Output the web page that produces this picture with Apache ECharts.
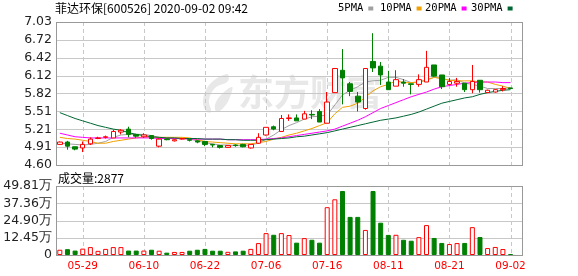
<!DOCTYPE html>
<html><head><meta charset="utf-8">
<script src="https://cdn.jsdelivr.net/npm/echarts@6/dist/echarts.min.js"></script>
<style>html,body{margin:0;padding:0;background:#fff}#c{width:578px;height:276px}</style>
</head><body><div id="c"></div>
<script>
const stockName = '菲达环保';
const stockCode = '600526';
const stampTime = '2020-09-02 09:42';
const lastVolume = 2877;

const dates = ['05-26','05-27','05-28','05-29','06-01','06-02','06-03','06-04','06-05','06-08',
  '06-09','06-10','06-11','06-12','06-15','06-16','06-17','06-18','06-19','06-22',
  '06-23','06-24','06-29','06-30','07-01','07-02','07-03','07-06','07-07','07-08',
  '07-09','07-10','07-13','07-14','07-15','07-16','07-17','07-20','07-21','07-22',
  '07-23','07-24','08-10','08-11','08-12','08-13','08-14','08-17','08-18','08-19',
  '08-20','08-21','08-24','08-25','08-26','08-27','08-28','08-31','09-01','09-02', 'pad'];
const xTickLabels = ['05-29','06-10','06-22','07-06','07-16','08-11','08-21','09-02'];

const opens  = [4.95,4.99,4.91,4.89,4.96,5.05,5.07,5.06,5.16,5.21, 5.12,5.08,5.10,4.92,5.04,5.01,5.04,5.03,5.01,5.00,
  4.95,4.93,4.90,4.94,4.95,4.89,4.97,5.11,5.25,5.17, 5.39,5.40,5.38,5.46,5.51,5.31,5.83,6.21,5.98,5.77,
  5.56,6.36,6.28,6.01,5.94,6.01,5.98,5.97,6.01,6.30, 6.13,5.97,5.99,5.99,5.88,6.04,5.83,5.84,5.88,5.91];
const closes = [4.99,4.92,4.87,4.95,5.04,5.06,5.08,5.17,5.19,5.12, 5.09,5.11,5.05,5.04,5.03,5.03,5.05,5.02,4.99,4.95,
  4.94,4.90,4.93,4.93,4.91,4.95,5.07,5.24,5.21,5.39, 5.40,5.35,5.47,5.45,5.33,5.67,6.24,6.08,5.85,5.67,
  6.24,6.25,6.13,5.88,6.05,5.99,5.97,6.05,6.26,6.11, 5.93,6.02,6.02,5.88,6.02,5.88,5.87,5.88,5.90,5.90];
const lows   = [4.94,4.86,4.85,4.82,4.94,5.04,5.05,5.06,5.12,5.07, 5.06,5.06,5.03,4.90,5.02,5.00,5.03,5.00,4.97,4.92,
  4.90,4.88,4.89,4.91,4.90,4.88,4.96,5.10,5.19,5.17, 5.35,5.35,5.38,5.38,5.33,5.31,5.83,5.63,5.77,5.51,
  5.54,6.18,5.96,5.88,5.94,5.93,5.80,5.93,6.01,6.10, 5.89,5.95,5.93,5.84,5.82,5.83,5.83,5.83,5.85,5.89];
const highs  = [5.00,5.01,4.91,5.00,5.07,5.08,5.10,5.20,5.21,5.25, 5.13,5.14,5.11,5.05,5.05,5.04,5.06,5.04,5.02,5.01,
  4.96,4.94,4.93,4.95,4.96,4.95,5.14,5.24,5.27,5.45, 5.46,5.46,5.52,5.53,5.55,5.84,6.24,6.57,6.01,5.84,
  6.24,6.84,6.35,6.20,6.21,6.06,5.98,6.14,6.54,6.30, 6.13,6.08,6.08,5.99,6.30,6.04,5.88,5.89,5.94,5.91];
// volume in 万
const volumes = [3.8,4.2,3.2,4.6,5.7,3.0,4.4,5.7,5.7,3.2, 3.2,3.2,3.8,3.1,1.7,2.2,2.2,3.1,3.8,4.4,
  3.1,3.1,2.3,2.6,3.1,4.4,8.6,15.8,14.6,15.8, 14.4,8.9,12.2,11.0,8.9,34.5,40.2,46.2,27.5,27.5,
  18.1,46.2,23.3,14.5,14.6,11.0,10.3,12.9,21.6,12.3, 8.7,7.9,8.6,8.7,20.1,13.0,5.0,5.8,4.3,0.2877];

const ma5  = [4.97,4.96,4.95,4.94,4.95, 4.97,5.00,5.07,5.11,5.12, 5.12,5.12,5.10,5.07,5.06, 5.05,5.05,5.04,5.01,4.98,
  4.96,4.94,4.94,4.93,4.93, 4.94,4.97,5.04,5.11,5.20, 5.27,5.32,5.38,5.42,5.43, 5.45,5.62,5.79,5.87,5.93,
  6.01,6.03,6.04,6.09,6.09, 6.05,6.00,6.01,6.05,6.09, 6.07,6.04,6.05,5.99,5.97, 5.94,5.90,5.90,5.90,5.91];
const ma10 = [5.07,5.05,5.04,5.02,5.00, 4.97,4.97,5.00,5.02,5.04, 5.06,5.08,5.07,5.07,5.07, 5.07,5.07,5.06,5.03,5.00,
  4.99,4.98,4.97,4.96,4.96, 4.96,4.98,5.00,5.04,5.07, 5.11,5.14,5.18,5.22,5.27, 5.32,5.47,5.58,5.60,5.65,
  5.75,5.86,5.93,5.97,6.03, 6.00,6.00,6.01,6.04,6.09, 6.07,6.04,6.03,6.03,6.03, 6.01,6.01,5.97,5.94,5.90];
const ma20 = [5.14,5.11,5.08,5.07,5.06, 5.06,5.06,5.06,5.06,5.06, 5.06,5.06,5.06,5.05,5.05, 5.05,5.05,5.04,5.04,5.04,
  5.04,5.04,5.03,5.03,5.03, 5.03,5.03,5.04,5.05,5.06, 5.08,5.10,5.12,5.14,5.16, 5.18,5.21,5.26,5.31,5.36,
  5.42,5.49,5.56,5.61,5.66, 5.71,5.76,5.80,5.84,5.89, 5.93,5.95,5.97,5.99,6.00, 6.01,6.01,6.01,6.00,6.00];
const ma30 = [5.49,5.44,5.39,5.35,5.31, 5.27,5.24,5.21,5.19,5.15, 5.12,5.10,5.08,5.07,5.06, 5.06,5.05,5.05,5.05,5.04,
  5.04,5.04,5.03,5.03,5.02, 5.02,5.02,5.03,5.04,5.05, 5.06,5.08,5.09,5.11,5.13, 5.15,5.18,5.21,5.24,5.27,
  5.30,5.33,5.36,5.38,5.40, 5.43,5.46,5.50,5.55,5.60, 5.65,5.68,5.71,5.74,5.76, 5.80,5.83,5.85,5.87,5.88];

const priceTicks = ['4.60','4.91','5.21','5.51','5.82','6.12','6.42','6.72','7.03'];
const volTicks = ['0','12.45万','24.90万','37.36万','49.81万'];
const maNames = ['5PMA','10PMA','20PMA','30PMA'];
const maColors = ['#a0a0a0','#f0a000','#ff00ff','#006633'];
const maData = [ma5, ma10, ma20, ma30];
const legendLefts = [338, 380, 425, 471];

const priceMin = parseFloat(priceTicks[0]);
const priceMax = parseFloat(priceTicks[priceTicks.length - 1]);
const volMax = parseFloat(volTicks[volTicks.length - 1]);
const volInterval = volMax / (volTicks.length - 1);

const RED = '#ff0000', GREEN = '#008000', FRAME = '#999999', GRIDC = '#c8c8c8';
const isUp = i => closes[i] > opens[i] || (closes[i] === opens[i] && (i === 0 || closes[i] >= closes[i - 1]));
const labelFn = (idx, val) => xTickLabels.indexOf(val) >= 0;

// frame + grid lines placed through the library's scales (api.coord)
function makeDecor(xIdx, yIdx, yVals, yBase) {
  return {
    type: 'custom', xAxisIndex: xIdx, yAxisIndex: yIdx, z: 1, silent: true, clip: false,
    data: [[0, yBase]],
    renderItem: (params, api) => {
      const cs = params.coordSys;
      const L = Math.round(cs.x), R = Math.round(cs.x + cs.width);
      const T = Math.round(cs.y), B = Math.round(cs.y + cs.height);
      const kids = [];
      yVals.forEach(v => {
        const y = Math.round(api.coord([0, v])[1]);
        kids.push({type: 'rect', shape: {x: L, y: y, width: R - L, height: 1}, style: {fill: GRIDC}});
      });
      xTickLabels.forEach(d => {
        const x = Math.round(api.coord([dates.indexOf(d), yBase])[0]);
        for (let yy = T; yy < B; yy += 7) {
          kids.push({type: 'rect', shape: {x: x, y: yy, width: 1, height: Math.min(4, B - yy)}, style: {fill: GRIDC}});
        }
      });
      kids.push({type: 'rect', shape: {x: L, y: T, width: R - L + 1, height: 1}, style: {fill: FRAME}});
      kids.push({type: 'rect', shape: {x: L, y: B, width: R - L + 1, height: 1}, style: {fill: FRAME}});
      kids.push({type: 'rect', shape: {x: L, y: T, width: 1, height: B - T + 1}, style: {fill: FRAME}});
      kids.push({type: 'rect', shape: {x: R, y: T, width: 1, height: B - T + 1}, style: {fill: FRAME}});
      return {type: 'group', children: kids};
    }
  };
}

const chart = echarts.init(document.getElementById('c'));
const axisFont = 'DejaVu Sans';
const hidden = {show: false};

const option = {
  title: [
    {text: stockName + '[' + stockCode + '] ' + stampTime, left: 55, top: 2, padding: 0,
     textStyle: {fontSize: 12, fontWeight: 'normal', color: '#000', fontFamily: 'Noto Sans CJK SC'}},
    {text: '成交量:' + lastVolume, left: 58, top: 172, padding: 0,
     textStyle: {fontSize: 12, fontWeight: 'normal', color: '#000', fontFamily: 'Noto Sans CJK SC'}}
  ],
  legend: maNames.map((n, k) => ({
    data: [n], left: legendLefts[k], top: 3, padding: 0, icon: 'rect', itemWidth: 5, itemHeight: 4,
    align: 'right', selectedMode: false,
    textStyle: {fontSize: 10.5, color: '#000', fontFamily: 'DejaVu Sans Mono'}
  })),
  graphic: [
    {type: 'polygon', silent: true, z: -1,
     shape: {smooth: 0.4, points: [[227,74],[210,84],[203,100],[206,111],[211,112],[209,100],[215,88],[228,81]]},
     style: {fill: '#e8e8e8'}},
    {type: 'polygon', silent: true, z: -1,
     shape: {smooth: 0.4, points: [[232,87],[221,95],[215,105],[217,112],[225,106],[230,97]]},
     style: {fill: '#e8e8e8'}},
    {type: 'text', silent: true, z: -1, left: 238, top: 74,
     style: {text: '东方财富', fill: '#e8e8e8', font: 'bold 36px "Noto Sans CJK SC"'}}
  ],
  grid: [
    {left: 56, top: 22, width: 466, height: 143},
    {left: 56, top: 186, width: 466, height: 69}
  ],
  xAxis: [
    {type: 'category', gridIndex: 0, data: dates, boundaryGap: true,
     axisLine: hidden, axisTick: hidden, axisLabel: hidden, splitLine: hidden},
    {type: 'category', gridIndex: 1, data: dates, boundaryGap: true,
     axisLine: hidden, axisTick: hidden, splitLine: hidden,
     axisLabel: {show: true, interval: labelFn, color: RED, fontSize: 10.5, fontFamily: axisFont, margin: 6}}
  ],
  yAxis: [
    {type: 'value', gridIndex: 0, min: priceMin, max: priceMax, show: false},
    {type: 'value', gridIndex: 0, min: 0, max: priceTicks.length - 1, interval: 1, position: 'left',
     axisLine: hidden, axisTick: hidden, splitLine: hidden,
     axisLabel: {formatter: v => priceTicks[Math.round(v)], color: '#222', fontSize: 12.5, fontFamily: axisFont, margin: 4}},
    {type: 'value', gridIndex: 1, min: 0, max: volMax, interval: volInterval, position: 'left',
     axisLine: hidden, axisTick: hidden, splitLine: hidden,
     axisLabel: {formatter: v => volTicks[Math.round(v / volInterval)], color: '#222', fontSize: 12.5, fontFamily: axisFont, margin: 4}}
  ],
  series: [
    makeDecor(0, 0, priceTicks.slice(1, -1).map(parseFloat), priceMin),
    makeDecor(1, 2, volTicks.slice(1, -1).map((t, i) => (i + 1) * volInterval), 0),
    ...maNames.map((n, k) => ({
      name: n, type: 'line', xAxisIndex: 0, yAxisIndex: 0, data: maData[k],
      showSymbol: false, symbol: 'none', color: maColors[k], lineStyle: {width: 1, color: maColors[k]},
      silent: true, z: 2
    })),
    {name: 'K', type: 'candlestick', xAxisIndex: 0, yAxisIndex: 0, barWidth: 5, z: 3,
     data: opens.map((o, i) => [o, closes[i], lows[i], highs[i]]),
     itemStyle: {color: '#ffffff', color0: GREEN, borderColor: RED, borderColor0: GREEN, borderWidth: 1}},
    {name: 'VOL', type: 'bar', xAxisIndex: 1, yAxisIndex: 2, barWidth: 5, barMinHeight: 1, z: 3,
     data: volumes.map((v, i) => ({value: v, itemStyle: isUp(i)
       ? {color: '#ffffff', borderColor: RED, borderWidth: 1}
       : {color: GREEN, borderColor: GREEN, borderWidth: 1}}))}
  ]
};
chart.setOption(option);
</script></body></html>
